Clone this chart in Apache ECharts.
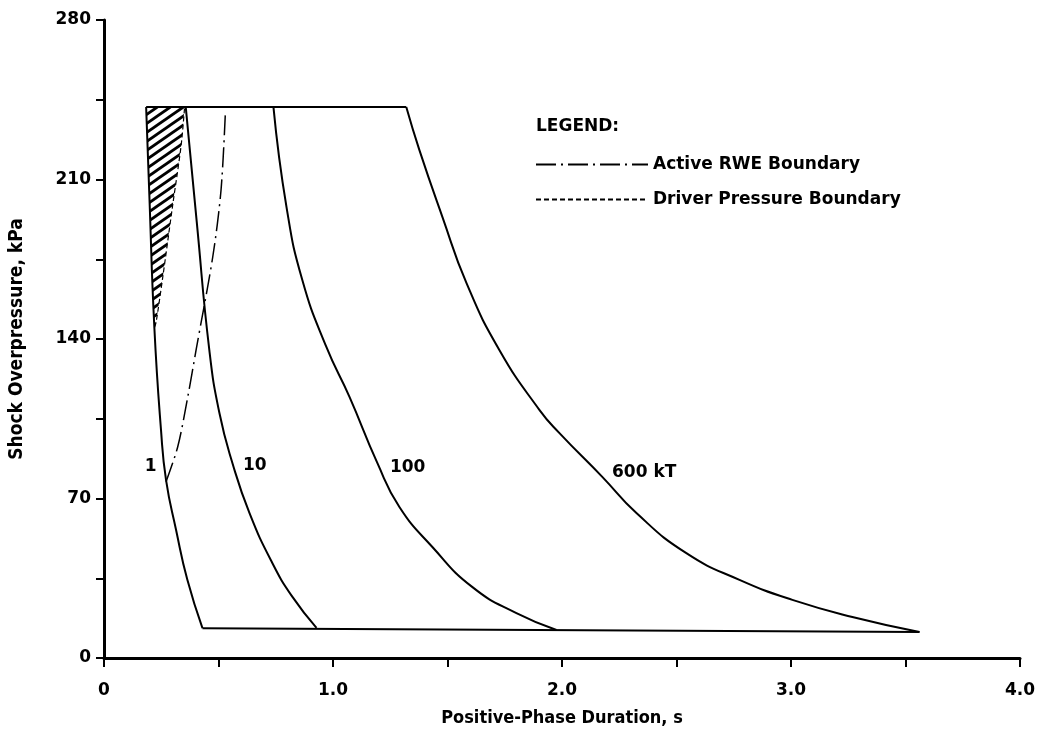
<!DOCTYPE html>
<html>
<head>
<meta charset="utf-8">
<script src="https://cdn.jsdelivr.net/npm/echarts@6/dist/echarts.min.js"></script>
<style>
  html, body { margin: 0; background: #fff; }
  #chart { width: 1039px; height: 745px; }
</style>
</head>
<body>
<div id="chart"></div>
<script>
// curves: [duration s, overpressure kPa]
const yield1kT = [[0.184, 241.8], [0.198, 203.2], [0.220, 144.8], [0.249, 100], [0.271, 78.1], [0.315, 56.1], [0.364, 34.3], [0.430, 13.1]];
const yield10kT = [[0.357, 241.8], [0.405, 191.4], [0.460, 135.1], [0.504, 107.5], [0.561, 85.5], [0.635, 63.7], [0.735, 41.7], [0.823, 26.8], [0.928, 13.2]];
const yield100kT = [[0.740, 241.8], [0.797, 197.9], [0.866, 165.9], [0.971, 136.5], [1.072, 114.6], [1.194, 85.5], [1.290, 66.3], [1.434, 48.7], [1.609, 31.1], [1.801, 19.7], [1.976, 12.3]];
const yield600kT = [[1.320, 241.8], [1.377, 223], [1.478, 193.5], [1.583, 164.5], [1.727, 135.1], [1.902, 108.8], [1.989, 98.7], [2.177, 79.4], [2.325, 63.6], [2.543, 46], [2.775, 34.3], [3.006, 25.5], [3.268, 18], [3.561, 11.4]];
const activeRWE = [[0.271, 77.4], [0.322, 92.7], [0.366, 114.7], [0.402, 135.1], [0.475, 176.1], [0.511, 205.3], [0.530, 239.2]];
const driverBoundary = [[0.221, 145.1], [0.228, 147.6], [0.256, 166.7], [0.300, 198.8], [0.337, 225.1], [0.352, 241.8]];
const topBoundary = [[0.184, 241.8], [1.320, 241.8]];
const bottomBoundary = [[0.430, 13.1], [3.561, 11.4]];

const curveNames = ['1', '10', '100', '600 kT'];
const xTickLabels = ['0', '1.0', '2.0', '3.0', '4.0'];
const yTickLabels = ['0', '70', '140', '210', '280'];

const hatchRegion = yield1kT.slice(0, 3).concat(driverBoundary);

// diagonal hatch pattern for the shaded wedge
const hatch = document.createElement('canvas');
hatch.width = 13;
hatch.height = 9;
(function () {
  const ctx = hatch.getContext('2d');
  const w = hatch.width, h = hatch.height;
  ctx.strokeStyle = '#000';
  ctx.lineWidth = 2.8;
  [-w, 0, w].forEach(dx => {
    ctx.beginPath();
    ctx.moveTo(dx - w, 2 * h);
    ctx.lineTo(dx + 2 * w, -h);
    ctx.stroke();
  });
})();

const font = 'DejaVu Sans';
const nameFont = 'DejaVu Sans Condensed';
const chart = echarts.init(document.getElementById('chart'));

// one point on each curve carries the yield label
const curve = (name, data, labelIdx, pos, dist, offset) => ({
  type: 'line',
  name: name,
  data: data.map((d, i) => i === labelIdx ? {
    value: d,
    symbol: 'circle',
    symbolSize: 1,
    itemStyle: { color: 'rgba(0,0,0,0)' },
    label: {
      show: true, formatter: name, position: pos, distance: dist, offset: offset,
      fontFamily: font, fontWeight: 'bold', fontSize: 17, color: '#000'
    }
  } : d),
  symbol: 'none',
  smooth: 0.5,
  lineStyle: { color: '#000', width: 2 },
  z: 3
});

const option = {
  animation: false,
  backgroundColor: '#fff',
  grid: { left: 104, right: 19, top: 20, bottom: 87 },
  xAxis: {
    type: 'value',
    min: 0,
    max: 4,
    interval: 0.5,
    name: 'Positive-Phase Duration, s',
    nameLocation: 'middle',
    nameGap: 51,
    nameTextStyle: { fontFamily: nameFont, fontWeight: 'bold', fontSize: 18, color: '#000' },
    axisLine: { lineStyle: { color: '#000', width: 3 } },
    axisTick: { length: 9, lineStyle: { color: '#000', width: 2 } },
    axisLabel: {
      margin: 24,
      fontFamily: font, fontWeight: 'bold', fontSize: 17, color: '#000',
      formatter: v => (v % 1 === 0 ? xTickLabels[v] : '')
    },
    splitLine: { show: false }
  },
  yAxis: {
    type: 'value',
    min: 0,
    max: 280,
    interval: 35,
    name: 'Shock Overpressure, kPa',
    nameLocation: 'middle',
    nameGap: 77,
    nameTextStyle: { fontFamily: nameFont, fontWeight: 'bold', fontSize: 19, color: '#000' },
    axisLine: { show: true, lineStyle: { color: '#000', width: 3 } },
    axisTick: { show: true, length: 8, lineStyle: { color: '#000', width: 2 } },
    axisLabel: {
      margin: 13,
      fontFamily: font, fontWeight: 'bold', fontSize: 17, color: '#000',
      formatter: v => (v % 70 === 0 ? yTickLabels[v / 70] : '')
    },
    splitLine: { show: false }
  },
  legend: {
    data: ['Active RWE Boundary', 'Driver Pressure Boundary'],
    orient: 'vertical',
    left: 530,
    top: 151,
    itemWidth: 112,
    itemHeight: 14,
    itemGap: 18,
    selectedMode: false,
    itemStyle: { opacity: 0 },
    textStyle: { fontFamily: font, fontWeight: 'bold', fontSize: 17, color: '#000' }
  },
  graphic: [{
    type: 'text',
    left: 536,
    top: 118,
    style: { text: 'LEGEND:', font: 'bold 17px "DejaVu Sans"', fill: '#000' }
  }],
  series: [
    {
      type: 'custom',
      name: 'hatch',
      silent: true,
      z: 1,
      data: [hatchRegion[0]],
      renderItem: (params, api) => ({
        type: 'polygon',
        shape: { points: hatchRegion.map(p => api.coord(p)) },
        style: { fill: { image: hatch, repeat: 'repeat' }, stroke: null }
      })
    },
    {
      type: 'line', name: 'top', data: topBoundary, symbol: 'none',
      lineStyle: { color: '#000', width: 2 }, z: 3
    },
    {
      type: 'line', name: 'bottom', data: bottomBoundary, symbol: 'none',
      lineStyle: { color: '#000', width: 2 }, z: 3
    },
    curve(curveNames[0], yield1kT, 4, 'left', 9, [0, -13]),
    curve(curveNames[1], yield10kT, 4, 'right', 10, [0, 2]),
    curve(curveNames[2], yield100kT, 5, 'right', 12, [0, 4]),
    curve(curveNames[3], yield600kT, 7, 'right', 9, [0, -5]),
    {
      type: 'line',
      name: 'Active RWE Boundary',
      data: activeRWE,
      symbol: 'none',
      smooth: 0.3,
      color: '#000',
      lineStyle: { color: '#000', width: 1.5, type: [20, 5, 2, 5] },
      z: 2
    },
    {
      type: 'line',
      name: 'Driver Pressure Boundary',
      data: driverBoundary,
      symbol: 'none',
      smooth: 0.3,
      color: '#000',
      lineStyle: { color: '#000', width: 1.2, type: [5, 3] },
      z: 2
    }
  ]
};

chart.setOption(option);
</script>
</body>
</html>
